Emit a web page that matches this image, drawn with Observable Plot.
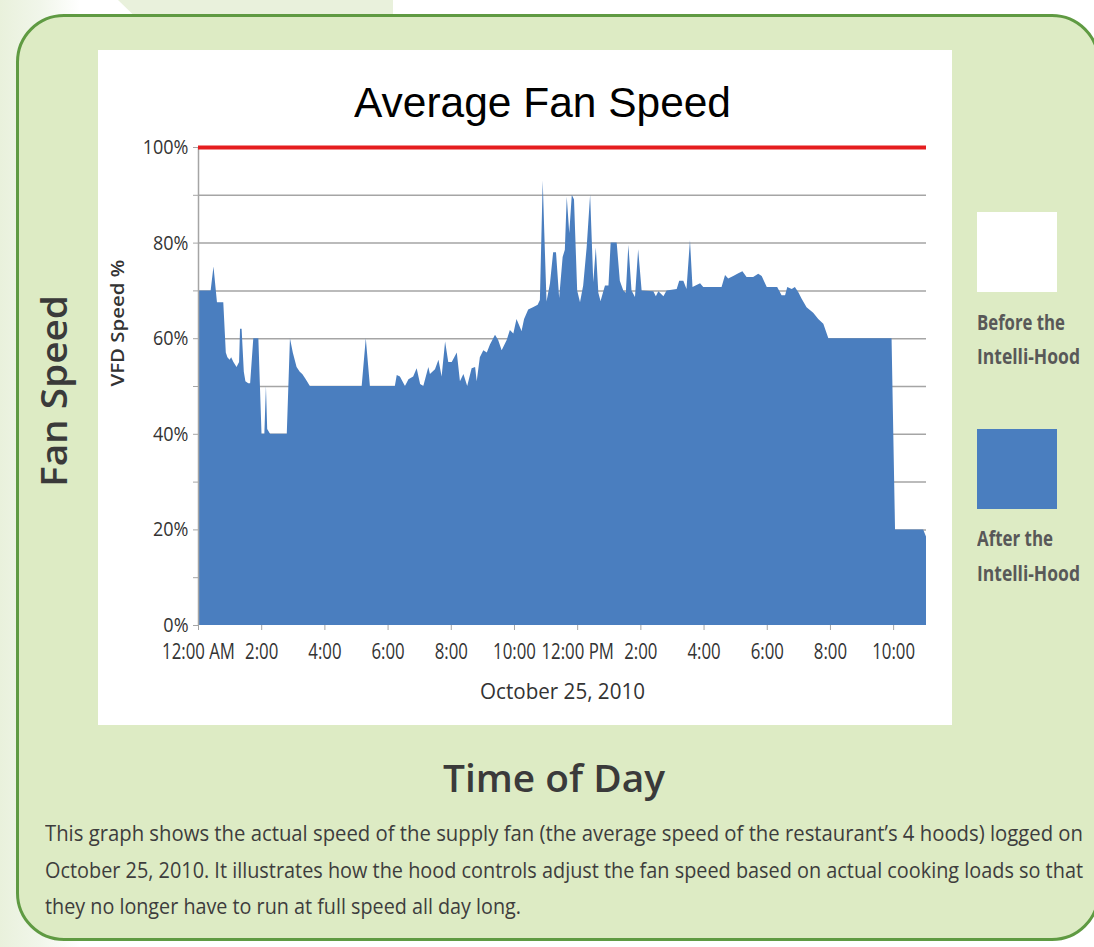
<!DOCTYPE html>
<html><head><meta charset="utf-8">
<script src="https://cdn.jsdelivr.net/npm/d3@7"></script>
<script src="https://cdn.jsdelivr.net/npm/@observablehq/plot@0.6"></script>
<style>
body{margin:0;background:#fff;}
#page{position:relative;width:1094px;height:947px;overflow:hidden;background:linear-gradient(90deg,#e9f1dc 0,#f1f6ea 40px,#fff 80px);}
#topband{position:absolute;left:118px;top:0;width:275px;height:16px;background:#e9f1dc;clip-path:polygon(0 0,100% 0,100% 100%,6% 100%);}
#panel{position:absolute;left:16px;top:14px;width:1084px;height:927px;box-sizing:border-box;border:3px solid #5f9a42;border-radius:48px;background:#ddebc4;}
#white{position:absolute;left:98px;top:50px;width:854px;height:675px;background:#fff;}
#chart{position:absolute;left:98px;top:50px;}
.os{font-family:"Open Sans",sans-serif;}
.abs{position:absolute;white-space:nowrap;transform-origin:0 0;}
#title{left:354px;top:79px;font-family:"Liberation Sans",Arial,sans-serif;font-size:42px;color:#000;line-height:48px;}
#fanSpeed{left:54px;top:391px;font-family:"Open Sans",sans-serif;font-size:36px;font-weight:600;color:#3a3a3a;line-height:40px;transform-origin:50% 50%;}
#timeOfDay{left:443px;top:752px;font-family:"Open Sans",sans-serif;font-size:38px;font-weight:600;color:#3a3a3a;line-height:50px;}
.cap{left:45px;font-size:22px;color:#3d3d3d;line-height:24px;}
.leg{left:977px;font-size:21px;font-weight:bold;color:#585858;line-height:24px;}
.sw{position:absolute;left:977px;width:80px;height:80px;}
</style></head>
<body><div id="page">
<div id="topband"></div>
<div id="panel"></div>
<div id="white"></div>
<div id="chart"></div>
<div id="title" class="abs" data-w="377">Average Fan Speed</div>
<div id="fanSpeed" class="abs">Fan Speed</div>
<div id="timeOfDay" class="abs" data-w="222">Time of Day</div>
<div class="sw" style="top:212px;background:#fff;"></div>
<div class="abs os leg" style="top:310px;" data-w="88">Before the</div>
<div class="abs os leg" style="top:344px;" data-w="103">Intelli-Hood</div>
<div class="sw" style="top:429px;background:#4a7ebf;"></div>
<div class="abs os leg" style="top:526px;" data-w="76">After the</div>
<div class="abs os leg" style="top:561px;" data-w="103">Intelli-Hood</div>
<div class="abs os cap" style="top:820px;" data-w="1038">This graph shows the actual speed of the supply fan (the average speed of the restaurant’s 4 hoods) logged on</div>
<div class="abs os cap" style="top:857px;" data-w="1038">October 25, 2010.  It illustrates how the hood controls adjust the fan speed based on actual cooking loads so that</div>
<div class="abs os cap" style="top:893px;" data-w="476">they no longer have to run at full speed all day long.</div>
</div>
<script>
const hours = [0.00,0.40,0.49,0.60,0.80,0.88,0.93,1.00,1.05,1.12,1.22,1.30,1.33,1.38,1.45,1.50,1.59,1.65,1.75,1.91,2.01,2.10,2.15,2.19,2.28,2.81,2.91,3.00,3.12,3.22,3.30,3.40,3.54,5.18,5.31,5.44,6.23,6.29,6.39,6.55,6.66,6.81,6.92,7.03,7.13,7.29,7.34,7.50,7.61,7.71,7.82,7.92,8.03,8.19,8.29,8.40,8.52,8.66,8.77,8.82,8.92,9.03,9.14,9.24,9.40,9.50,9.61,9.77,9.87,9.98,10.08,10.24,10.32,10.45,10.60,10.75,10.82,10.91,10.96,11.03,11.14,11.24,11.33,11.43,11.54,11.61,11.67,11.75,11.83,11.90,12.00,12.09,12.19,12.30,12.41,12.51,12.59,12.67,12.74,12.88,12.99,13.06,13.25,13.35,13.46,13.54,13.62,13.72,13.83,13.93,14.04,14.41,14.49,14.57,14.73,14.83,15.15,15.23,15.36,15.46,15.57,15.65,15.89,15.99,16.57,16.68,16.78,16.94,17.10,17.23,17.36,17.57,17.73,17.84,18.00,18.33,18.47,18.58,18.65,18.79,18.89,19.00,19.10,19.26,19.47,19.63,19.79,19.95,21.95,22.06,22.95,23.04];
const speed = [70,70,75,67.5,67.5,57,56,55.5,56,55,54,55,62,62,53,51,50.6,50.6,60,60,40,40,50,41,40,40,60,57,54,53,52.5,51.5,50,50,60,50,50,52.3,52,50,51.4,52,53.7,50.4,50,54,52.5,53.5,55.5,52,59.3,55,55,57,51,52.5,50,53.7,54,51,56,57.5,57,58.7,60.7,59.6,57.5,59.6,61.7,61,64,61.5,64,66,66.5,67,68,93,82,67.7,71.5,78,78,68.4,77,78.5,89.6,82,90,89,70,67.5,71,79,90,71.7,79,69.5,67.8,71,71,80,80,72,70,69.5,79.5,70,68.6,78.6,70,69.8,68.8,69.8,68.8,70,70.3,72,72,70.3,80.5,70.7,71.5,70.7,70.7,73.2,72.5,73,73.6,74,72.8,72.8,73.5,73,70.7,70.7,69,69,70.7,70.3,70.7,69.6,68.3,66.5,65.3,64,63,60,60,20,20,18.5];
const tickHours = [0,2,4,6,8,10,12,14,16,18,20,22];
const tickLabels = ["12:00 AM","2:00","4:00","6:00","8:00","10:00","12:00 PM","2:00","4:00","6:00","8:00","10:00"];
const gridLevels = [10,20,30,40,50,60,70,80,90];
const yTicks = [0,10,20,30,40,50,60,70,80,90,100];
const fullSpeed = [100];
const xLabel = "October 25, 2010";
const yLabel = "VFD Speed %";

const data = hours.map((t, i) => ({t, v: speed[i]}));

const chart = Plot.plot({
  width: 854, height: 675,
  marginLeft: 100, marginRight: 26, marginTop: 97, marginBottom: 100,
  style: {background: "transparent", fontFamily: '"Open Sans",sans-serif', fontSize: "21px", color: "#333"},
  x: {domain: [0, 23.04]},
  y: {domain: [0, 100]},
  marks: [
    Plot.ruleY(gridLevels, {stroke: "#a5a5a5", strokeWidth: 1.5}),
    Plot.areaY(data, {x: "t", y: "v", fill: "#4a7ebf"}),
    Plot.ruleX([0], {stroke: "#a5a5a5", strokeWidth: 1.5}),
    Plot.ruleY(fullSpeed, {stroke: "#e51d1f", strokeWidth: 4}),
    Plot.axisY({ticks: yTicks, tickFormat: d => d % 20 === 0 ? d + "%" : "", tickSize: 5, tickPadding: 5, stroke: "#a5a5a5", fill: "#333", label: null, fontSize: 20}),
    Plot.axisX({ticks: tickHours, tickFormat: d => tickLabels[tickHours.indexOf(d)], tickSize: 5, tickPadding: 14, stroke: "#a5a5a5", fill: "#333", label: null, fontSize: 21}),
    Plot.text([xLabel], {frameAnchor: "bottom", dy: 73, fontSize: 21, fill: "#333"}),
    Plot.text([yLabel], {frameAnchor: "left", dx: -80, rotate: -90, fontSize: 18, fontWeight: 600, fill: "#333"})
  ]
});
document.getElementById("chart").appendChild(chart);

// condense SVG texts (the original uses a condensed face)
function scaleText(t, f) {
  t.setAttribute("transform", (t.getAttribute("transform") || "") + ` scale(${f},1)`);
}
chart.querySelectorAll('g[aria-label="y-axis tick label"] text').forEach(t => scaleText(t, 0.9));
chart.querySelectorAll('g[aria-label="x-axis tick label"] text').forEach(t => scaleText(t, 0.8));
chart.querySelectorAll('g[aria-label="text"] text').forEach(t => {
  const target = t.textContent === xLabel ? 165 : 127;
  scaleText(t, target / t.getComputedTextLength());
});

// fit HTML texts to their widths in the original
document.querySelectorAll("[data-w]").forEach(el => {
  const w = el.getBoundingClientRect().width;
  el.style.transform = `scaleX(${(+el.dataset.w) / w})`;
});
const fs = document.getElementById("fanSpeed");
const fw = fs.getBoundingClientRect().width;
fs.style.transform = `translate(-50%,-50%) rotate(-90deg) scaleX(${192 / fw})`;
</script>
</body></html>
